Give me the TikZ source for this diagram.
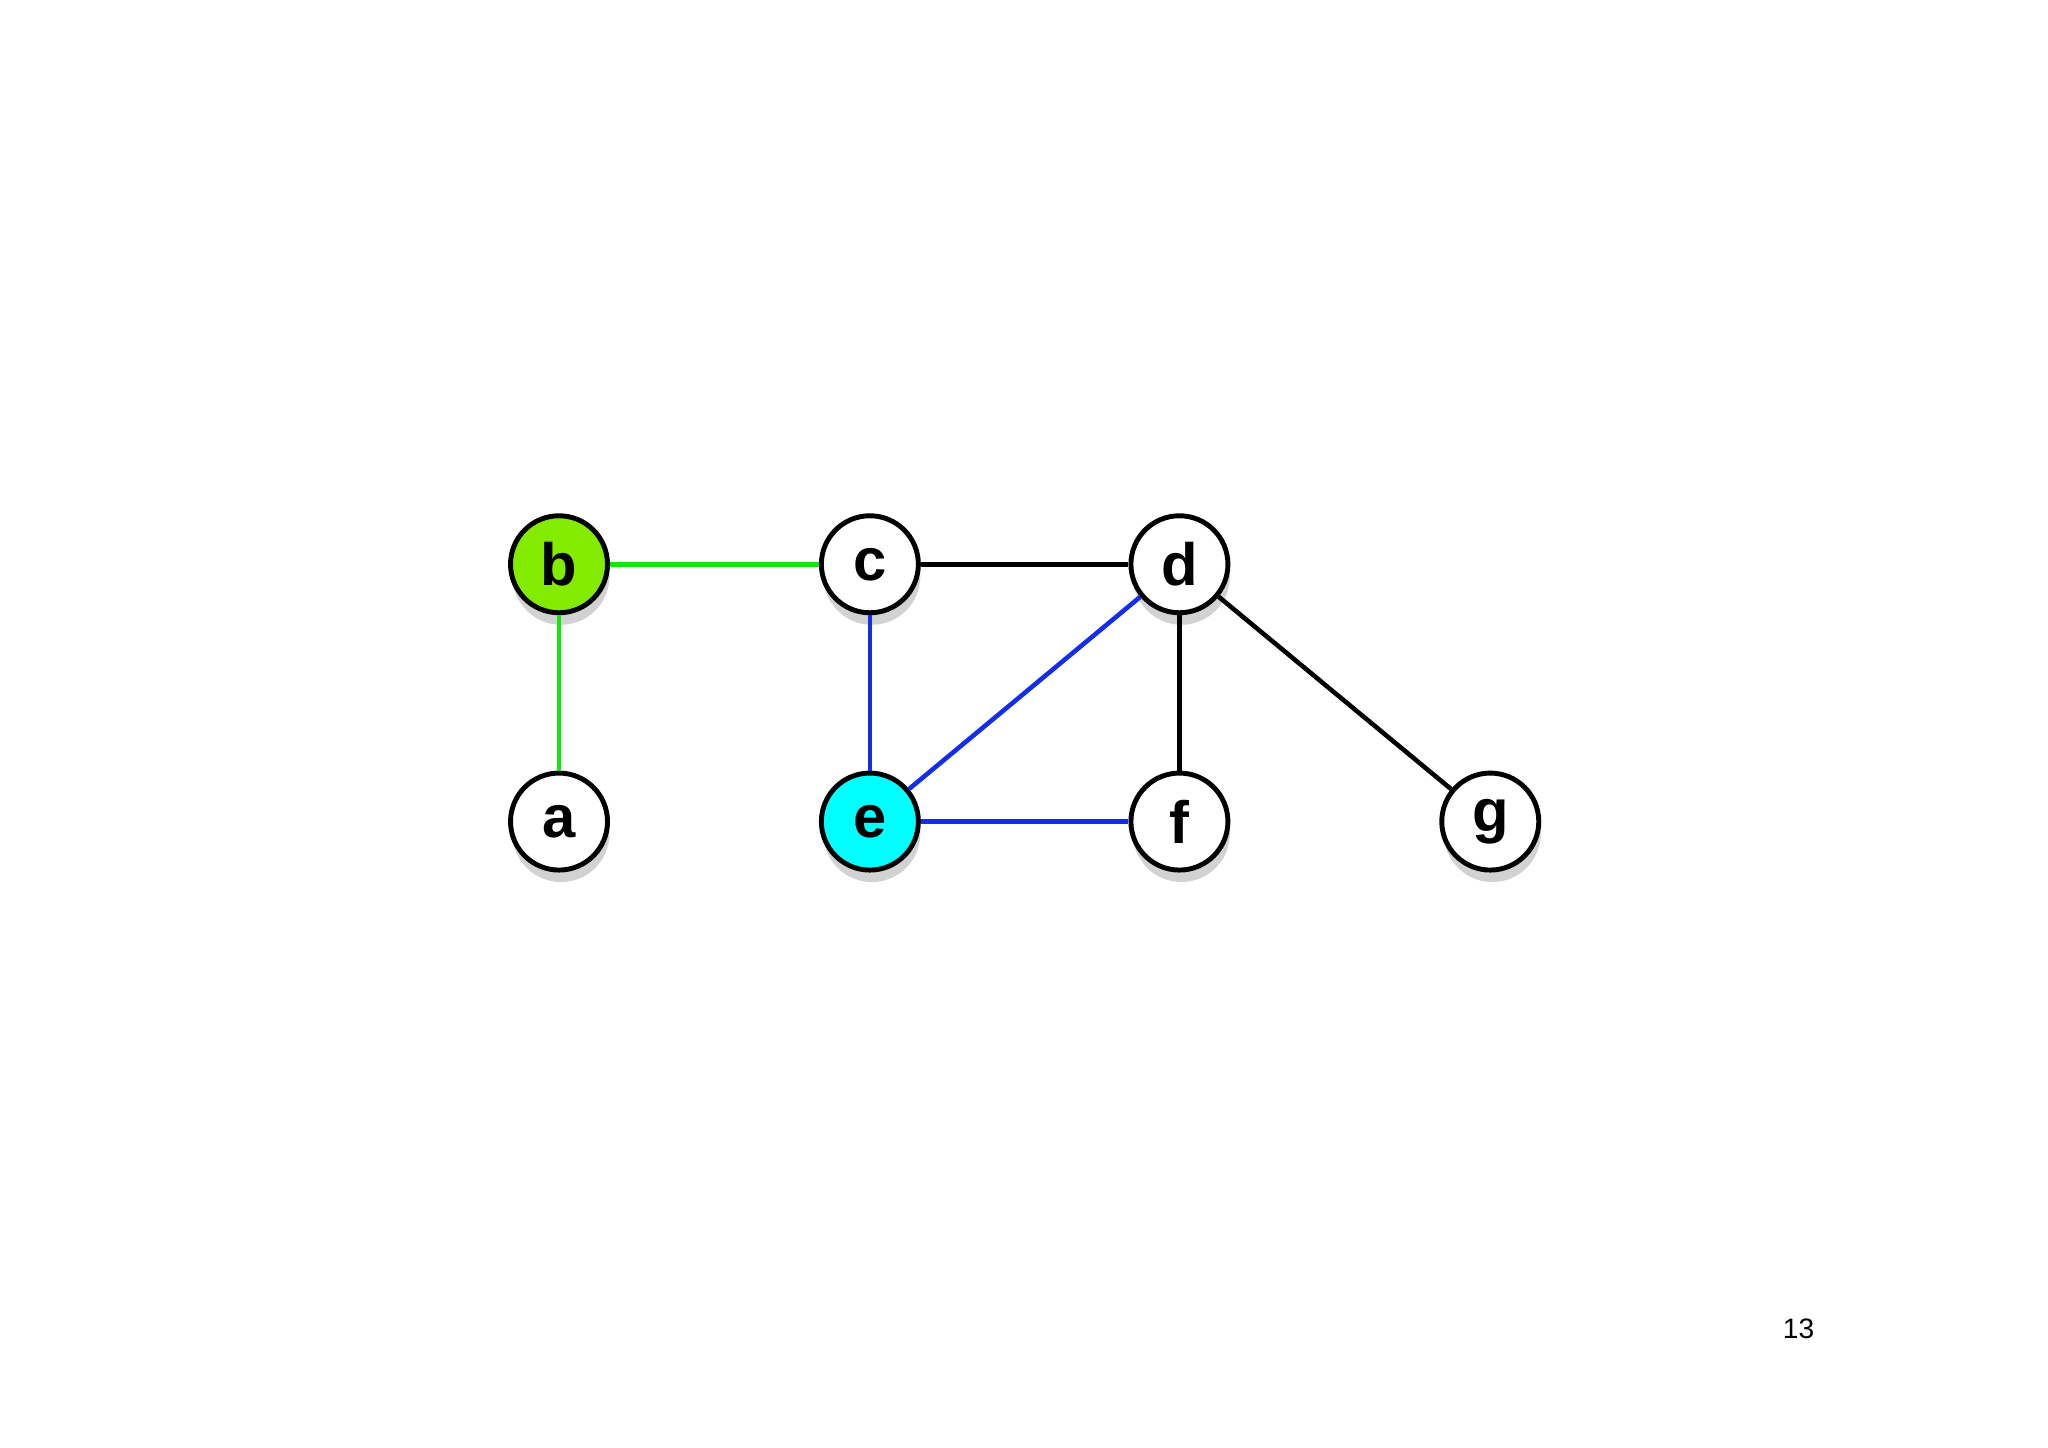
\documentclass[tikz,border=0pt]{standalone}
\usepackage{fontspec}
\setmainfont{Liberation Sans}
\usepackage{tikz}
\usetikzlibrary{shadows}

\definecolor{limegreen}{RGB}{130,235,0}
\definecolor{edgegreen}{RGB}{20,230,20}
\definecolor{edgeblue}{RGB}{20,45,235}
\definecolor{brightcyan}{RGB}{0,255,255}

\tikzset{
  vertex/.style={circle, draw, line width=1.4pt, fill=white, minimum size=0.97cm, inner sep=0pt,
    font=\fontsize{17}{17}\selectfont\bfseries,
    drop shadow={shadow xshift=0.02cm, shadow yshift=-0.12cm, fill=black!35, opacity=0.5}},
  edge/.style={line width=1.3pt}
}

\begin{document}
\begin{tikzpicture}[x={(0.01306cm,0)}, y={(0,-0.01306cm)}]
        \useasboundingbox (0,0) rectangle (1568,1108);

        \node[vertex, fill=limegreen] (b) at (428,432) {b};
        \node[vertex] (c) at (666,432) {c};
        \node[vertex] (d) at (903,432) {d};
        \node[vertex] (a) at (428,629) {a};
        \node[vertex, fill=brightcyan] (e) at (666,629) {e};
        \node[vertex] (f) at (903,629) {f};
        \node[vertex] (g) at (1141,629) {g};

        \draw[edge, edgegreen] (b) -- (c);
        \draw[edge, edgegreen] (b) -- (a);
        \draw[edge] (c) -- (d);
        \draw[edge] (d) -- (f);
        \draw[edge] (d) -- (g);
        \draw[edge, edgeblue] (c) -- (e);
        \draw[edge, edgeblue] (e) -- (d);
        \draw[edge, edgeblue] (e) -- (f);

        \node[font=\fontsize{8}{8}\selectfont] (page) at (1377,1017) {13};
    \end{tikzpicture}
\end{document}
